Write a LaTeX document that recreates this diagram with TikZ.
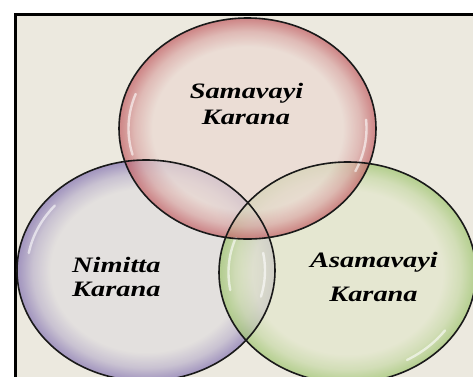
\documentclass[tikz,border=0pt]{standalone}
\usepackage{fontspec}
\setmainfont{Liberation Serif}
\definecolor{bg}{HTML}{ECE9DF}
\definecolor{rin}{HTML}{EBD9D2}
\definecolor{rrim}{HTML}{C25E63}
\definecolor{pin}{HTML}{E0DDDE}
\definecolor{prim}{HTML}{8574B2}
\definecolor{gin}{HTML}{E3E7CC}
\definecolor{grim}{HTML}{9FC570}
\pgfdeclareradialshading{redsh}{\pgfpoint{0bp}{0bp}}{color(0bp)=(rin); color(18.5bp)=(rin); color(22bp)=(rrim!40!rin); color(24.2bp)=(rrim!85!rin); color(25bp)=(rrim); color(50bp)=(rrim)}
\pgfdeclareradialshading{purpsh}{\pgfpoint{0bp}{0bp}}{color(0bp)=(pin); color(18.5bp)=(pin); color(22bp)=(prim!40!pin); color(24.2bp)=(prim!85!pin); color(25bp)=(prim); color(50bp)=(prim)}
\pgfdeclareradialshading{greensh}{\pgfpoint{0bp}{0bp}}{color(0bp)=(gin); color(18.5bp)=(gin); color(22bp)=(grim!40!gin); color(24.2bp)=(grim!85!gin); color(25bp)=(grim); color(50bp)=(grim)}
\tikzset{
  bubble/.style={fill opacity=0.72},
  rimline/.style={draw=black!90, line width=1.6pt},
  gloss/.style={draw=white, line width=2.4pt, draw opacity=0.6, line cap=round},
  lbl/.style={font=\fontsize{22}{22}\selectfont\bfseries\itshape, inner sep=0pt, anchor=base, text=black},
}
\newcommand{\wide}[1]{\scalebox{1.29}[1]{#1}}
\begin{document}
\begin{tikzpicture}[x=1pt,y=-1pt]
  \useasboundingbox (0,0) rectangle (473,376);
  \clip (0,0) rectangle (473,376);
  \fill[white] (0,0) rectangle (473,376);
  \fill[bg] (15,15) rectangle (480,380);
  \draw[line width=3pt] (15,390) -- (15,14.7) -- (490,14.7);
  % ellipse centres
  \coordinate (ct) at (247.5,128.5);
  \coordinate (cl) at (146,270.5);
  \coordinate (cr) at (347.5,272.5);
  % fills
  \shade[bubble, shading=purpsh] (cl) ellipse [x radius=129, y radius=110.5];
  \shade[bubble, shading=greensh] (cr) ellipse [x radius=128.5, y radius=110.5];
  \shade[bubble, shading=redsh] (ct) ellipse [x radius=128.5, y radius=110.5];
  % gloss highlights
  \draw[gloss] (ct) ++(165:119 and 101) arc[start angle=165, end angle=200, x radius=119, y radius=101];
  \draw[gloss] (ct) ++(-5:119 and 101) arc[start angle=-5, end angle=25, x radius=119, y radius=101];
  \draw[gloss] (cl) ++(190:119 and 101) arc[start angle=190, end angle=220, x radius=119, y radius=101];
  \draw[gloss] (cl) ++(-10:119 and 101) arc[start angle=-10, end angle=15, x radius=119, y radius=101];
  \draw[gloss] (cr) ++(170:119 and 101) arc[start angle=170, end angle=200, x radius=119, y radius=101];
  \draw[gloss] (cr) ++(35:119 and 101) arc[start angle=35, end angle=60, x radius=119, y radius=101];
  % outlines
  \draw[rimline] (cl) ellipse [x radius=129, y radius=110.5];
  \draw[rimline] (cr) ellipse [x radius=128.5, y radius=110.5];
  \draw[rimline] (ct) ellipse [x radius=128.5, y radius=110.5];
  % labels
  \node[lbl] (s1) at (246.5,98.7) {\wide{Samavayi}};
  \node[lbl] (s2) at (246,124.5) {\wide{Karana}};
  \node[lbl, anchor=base west] (n1) at (72,272) {\wide{Nimitta}};
  \node[lbl, anchor=base west] (n2) at (72,296) {\wide{Karana}};
  \node[lbl] (a1) at (374,267.7) {\wide{Asamavayi}};
  \node[lbl] (a2) at (373.5,301.7) {\wide{Karana}};
\end{tikzpicture}
\end{document}
